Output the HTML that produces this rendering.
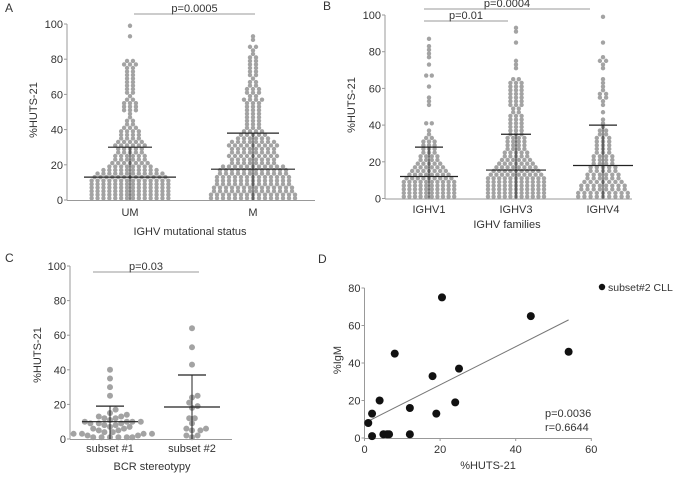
<!DOCTYPE html>
<html><head><meta charset="utf-8"><style>
body{margin:0;background:#fff;width:674px;height:474px;overflow:hidden}
svg text{font-family:"Liberation Sans",sans-serif;fill:#333}
</style></head><body>
<svg id="fig" width="674" height="474" viewBox="0 0 674 474" xmlns="http://www.w3.org/2000/svg"></svg>
<script>
// Panel A bin counts (2-unit bins, 0..100)
const aCategories=["UM","M"];
const aUM=[14,14,14,14,14,14,13,12,10,8,7,6,6,5,5,6,5,4,4,4,3,2,2,1,1,3,3,3,2,1,2,2,2,2,2,2,2,2,3,2,0,0,0,0,0,0,1,0,0,1];
const aM=[15,15,14,14,13,13,13,12,12,11,8,8,9,8,8,9,8,6,5,4,3,3,3,3,3,3,3,3,4,2,3,3,2,2,1,2,2,2,2,2,2,1,1,2,0,1,1,0,0,0];
const aMedian=[13,17.5];
const aTop=[30,38];
// Panel B
const bCategories=["IGHV1","IGHV3","IGHV4"];
const bV1=[10,10,10,10,10,9,8,7,6,5,4,4,3,3,3,3,2,1,1,0,2,0,0,0,0,1,1,1,0,0,1,0,0,2,0,0,1,0,1,1,1,1,0,1,0,0,0,0,0,0];
const bV3=[11,11,11,11,11,11,10,9,8,7,6,5,5,4,4,4,4,3,3,3,3,3,3,2,2,3,3,3,3,3,3,3,2,0,0,1,1,1,0,0,0,0,1,0,0,1,1,0,0,0];
const bV4=[9,9,8,8,7,6,6,5,5,4,4,4,3,3,3,3,3,2,2,1,1,1,0,1,0,1,1,2,2,1,1,1,1,0,0,1,1,2,1,0,0,0,1,0,0,0,0,0,0,1];
const bMedian=[12,15.5,18];
const bTop=[28,35,40];
// Panel C
const cCategories=["subset #1","subset #2"];
const cS1=[40,35,30,25,17,15,14,13,13,12,12,11,10,10,10,10,9,9,9,8,8,7,7,6,6,5,5,4,4,3,3,3,3,2,2,1,1,1,1,1,1];
const cS2=[64,53,43,25,24,21,19,18,12,12,9,6,6,5,5,2,2,1];
const cMedian=[10,18.5];
const cTop=[19,37];
// Panel D
const dX=[1,2,2,4,5,6,6.5,8,12,12,18,19,20.5,24,25,44,54];
const dY=[8,13,1,20,2,2,2,45,16,2,33,13,75,19,37,65,46];
const dFit=[1,9,54,63];

const S=document.getElementById('fig');const NS='http://www.w3.org/2000/svg';
function el(t,a,p){const e=document.createElementNS(NS,t);for(const k in a)e.setAttribute(k,a[k]);(p||S).appendChild(e);return e;}
function txt(x,y,s,size,anchor,rot){const e=el('text',{x:x,y:y,'font-size':size||11,'text-anchor':anchor||'middle'});if(rot)e.setAttribute('transform','rotate(-90 '+x+' '+y+')');e.textContent=s;return e;}
function yAxis(x,y0,y1,ticks,ys){
  const g=el('g',{});
  
  
  el('line',{x1:x,y1:ys(y0),x2:x,y2:ys(y1),stroke:'#999','stroke-width':1},g);
  ticks.forEach(t=>{el('line',{x1:x-3,x2:x,y1:ys(t),y2:ys(t),stroke:'#999'},g);const l=txt(x-4,ys(t)+4,String(t),11,'end');g.appendChild(l);});
}
function swarmBins(cx,bins,ys,sp,name){
  const g=el('g',{});
  
  
  bins.forEach((n,i)=>{const y=ys(2*i+1);for(let j=0;j<n;j++){el('circle',{cx:cx+(j-(n-1)/2)*sp,cy:y,r:2.2,fill:'#a3a3a3'},g);}});
}
function swarmVals(cx,vals,ys,name){
  const g=el('g',{});
  
  
  const placed=[];const d=5.6;
  vals.slice().sort((a,b)=>a-b).forEach(v=>{const y=ys(v);let k=0,x=cx;
    while(true){const off=k===0?0:Math.ceil(k/2)*d*0.5*(k%2?1:-1);x=cx+off;
      if(placed.every(p=>Math.hypot(p[0]-x,p[1]-y)>=d))break;k++;}
    placed.push([x,y]);el('circle',{cx:x,cy:y,r:3,fill:'#a3a3a3'},g);});
}
function stats(cx,med,top,ys,mw,tw,name){
  const g=el('g',{});
  
  
  el('line',{x1:cx,x2:cx,y1:ys(0),y2:ys(top),stroke:'#222'},g);
  el('line',{x1:cx-mw,x2:cx+mw,y1:ys(med),y2:ys(med),stroke:'#222','stroke-width':1.2},g);
  el('line',{x1:cx-tw,x2:cx+tw,y1:ys(top),y2:ys(top),stroke:'#222','stroke-width':1.2},g);
}
function sig(x1,x2,y,label,name){
  const g=el('g',{});
  
  
  el('line',{x1:x1,x2:x2,y1:y,y2:y,stroke:'#999'},g);
  g.appendChild(txt((x1+x2)/2,y-2,label,11));
}
const T=[0,20,40,60,80,100];
// Panel A
txt(5,12,'A',12,'start');
const ysA=v=>200-v*1.76;
swarmBins(130,aUM,ysA,5.9,'swarm-um');swarmBins(253,aM,ysA,6,'swarm-m');
stats(130,aMedian[0],aTop[0],ysA,46,22,'stats-um');stats(253,aMedian[1],aTop[1],ysA,42,26,'stats-m');
yAxis(67,0,100,T,ysA);
el('line',{x1:67,x2:315,y1:200.5,y2:200.5,stroke:'#999'});
aCategories.forEach((c,i)=>txt([130,253][i],216,c,11));
txt(190,235,'IGHV mutational status',11);
txt(37,110,'%HUTS-21',11,'middle',true);
sig(134,255,14,'p=0.0005','p-value-a');
// Panel B
txt(323,10,'B',12,'start');
const ysB=v=>198.5-v*1.835;
swarmBins(429,bV1,ysB,5.6,'swarm-ighv1');swarmBins(516,bV3,ysB,5.6,'swarm-ighv3');swarmBins(603,bV4,ysB,6.2,'swarm-ighv4');
[429,516,603].forEach((cx,i)=>stats(cx,bMedian[i],bTop[i],ysB,[29,30,30][i],[14,15,14][i],'stats-'+bCategories[i].toLowerCase()));
yAxis(385,0,100,T,ysB);
el('line',{x1:385,x2:632,y1:199,y2:199,stroke:'#999'});
bCategories.forEach((c,i)=>txt([429,516,603][i],213,c,11));
txt(507,228,'IGHV families',11);
txt(355,105,'%HUTS-21',11,'middle',true);
sig(424,590,9,'p=0.0004','p-value-v1-v4');sig(424,508,21,'p=0.01','p-value-v1-v3');
// Panel C
txt(5,262,'C',12,'start');
const ysC=v=>439-v*1.73;
swarmVals(110,cS1,ysC,'swarm-subset1');swarmVals(192,cS2,ysC,'swarm-subset2');
stats(110,cMedian[0],cTop[0],ysC,28,14,'stats-subset1');stats(192,cMedian[1],cTop[1],ysC,28,14,'stats-subset2');
yAxis(70,0,100,T,ysC);
el('line',{x1:70,x2:232,y1:439.5,y2:439.5,stroke:'#999'});
cCategories.forEach((c,i)=>txt([110,192][i],452,c,11));
txt(152,470,'BCR stereotypy',11);
txt(41,355,'%HUTS-21',11,'middle',true);
sig(93,199,272,'p=0.03','p-value-c');
// Panel D
txt(318,263,'D',12,'start');
const xsD=v=>364.5+v*3.78, ysD=v=>438-v*1.875;
yAxis(364.5,0,80,[0,20,40,60,80],ysD);
const xa=el('g',{});


el('line',{x1:364.5,x2:xsD(60),y1:438.5,y2:438.5,stroke:'#999'},xa);
[0,20,40,60].forEach(t=>{el('line',{x1:xsD(t),x2:xsD(t),y1:438,y2:441,stroke:'#999'},xa);xa.appendChild(txt(xsD(t),453,String(t),11));});
const fit=el('line',{x1:xsD(dFit[0]),y1:ysD(dFit[1]),x2:xsD(dFit[2]),y2:ysD(dFit[3]),stroke:'#777'});


dX.forEach((x,i)=>{const c=el('circle',{cx:xsD(x),cy:ysD(dY[i]),r:4,fill:'#111'});

});
txt(488,469,'%HUTS-21',11);
txt(341,360,'%IgM',11,'middle',true);
txt(545,417,'p=0.0036',11,'start');txt(545,431,'r=0.6644',11,'start');
const lg=el('g',{});


el('circle',{cx:602,cy:287,r:3.2,fill:'#111'},lg);lg.appendChild(txt(608,291,'subset#2 CLL',10.5,'start'));
</script>
</body></html>
